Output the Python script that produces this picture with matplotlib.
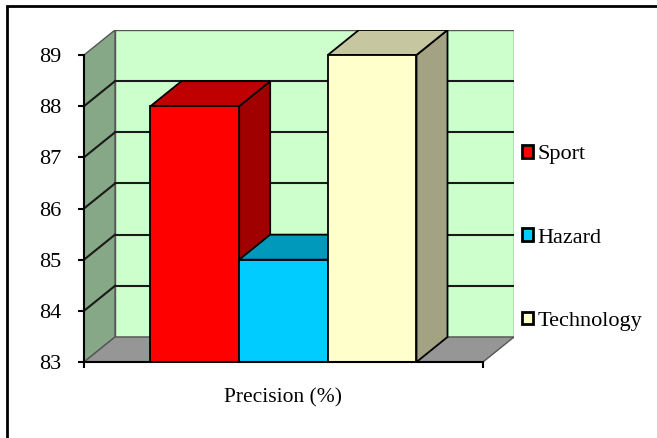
import matplotlib.pyplot as plt
from matplotlib.patches import Polygon, Rectangle, Patch

series = ['Sport', 'Hazard', 'Technology']
precision = [88, 85, 89]
category = 'Precision (%)'
yticks = [83, 84, 85, 86, 87, 88, 89]

front_cols = ['#FF0000', '#00CCFF', '#FFFFCC']
top_cols = ['#C00000', '#0099BB', '#C6C6A0']
side_cols = ['#A00000', '#007A99', '#A3A383']

ymin, ymax = 83, 89
DX = 0.0777   # depth offset along x (category units)
DY = 0.4886   # depth offset along y (value units)
gap = 1.5     # gap width relative to bar width
w = 1.0 / (len(series) + gap)
start = gap * w / 2

plt.rcParams['font.family'] = ['Liberation Serif', 'DejaVu Serif']

fig = plt.figure(figsize=(6.57, 4.38), dpi=100)
ax = fig.add_axes([84/657, 76/438, 430/657, 332/438])
ax.set_xlim(0, 1 + DX)
ax.set_ylim(ymin, ymax + DY)

# walls and floor
back = Rectangle((DX, ymin + DY), 1, ymax - ymin, fc='#CCFFCC', ec='#555555', lw=1, zorder=1)
side = Polygon([(0, ymin), (DX, ymin + DY), (DX, ymax + DY), (0, ymax)],
               closed=True, fc='#86A886', ec='#555555', lw=1, zorder=1)
floor = Polygon([(0, ymin), (1, ymin), (1 + DX, ymin + DY), (DX, ymin + DY)],
                closed=True, fc='#969696', ec='#555555', lw=1, zorder=1)
for p in (back, side, floor):
    ax.add_patch(p)

# gridlines on back wall and side wall
for v in yticks[1:-1]:
    ax.plot([DX, 1 + DX], [v + DY, v + DY], color='#1a1a1a', lw=1.5, zorder=2)
    ax.plot([0, DX], [v, v + DY], color='#1a1a1a', lw=1.5, zorder=2)

# 3d bars, left to right so later fronts cover earlier sides
for i, v in enumerate(precision):
    x0 = start + i * w
    kw = dict(closed=True, ec='black', lw=1.3, zorder=3 + i)
    ax.add_patch(Polygon([(x0 + w, ymin), (x0 + w + DX, ymin + DY),
                          (x0 + w + DX, v + DY), (x0 + w, v)], fc=side_cols[i], **kw))
    ax.add_patch(Polygon([(x0, v), (x0 + w, v), (x0 + w + DX, v + DY),
                          (x0 + DX, v + DY)], fc=top_cols[i], **kw))
    ax.add_patch(Rectangle((x0, ymin), w, v - ymin, fc=front_cols[i],
                           ec='black', lw=1.3, zorder=3 + i))

# axes
for s in ('top', 'right'):
    ax.spines[s].set_visible(False)
ax.spines['left'].set_bounds(ymin, ymax)
ax.spines['bottom'].set_bounds(0, 1)
for s in ('left', 'bottom'):
    ax.spines[s].set_linewidth(1.5)
    ax.spines[s].set_zorder(10)
ax.set_yticks(yticks)
ax.set_xticks([0, 1])
ax.set_xticklabels(['', ''])
ax.tick_params(axis='both', direction='out', length=4.5, width=1.5)
ax.tick_params(axis='y', labelsize=16, pad=12)
ax.annotate(category, xy=(0.5, ymin), xytext=(0, -26), textcoords='offset points',
            ha='center', va='center', fontsize=15.5)

handles = [Patch(fc=c, ec='black', lw=2) for c in front_cols]
ax.legend(handles, series, loc='center left', bbox_to_anchor=(522/657, 1 - 238/438),
          bbox_transform=fig.transFigure, frameon=False, borderpad=0,
          borderaxespad=0, handlelength=0.5, handleheight=0.5,
          handletextpad=0.2, labelspacing=2.88, fontsize=16)

# outer chart frame
fig.add_artist(Rectangle((7/657, -0.1), 1.2, 1.1 - 6/438, transform=fig.transFigure,
                         fill=False, ec='black', lw=2))

fig.savefig('out.png', dpi=100)
